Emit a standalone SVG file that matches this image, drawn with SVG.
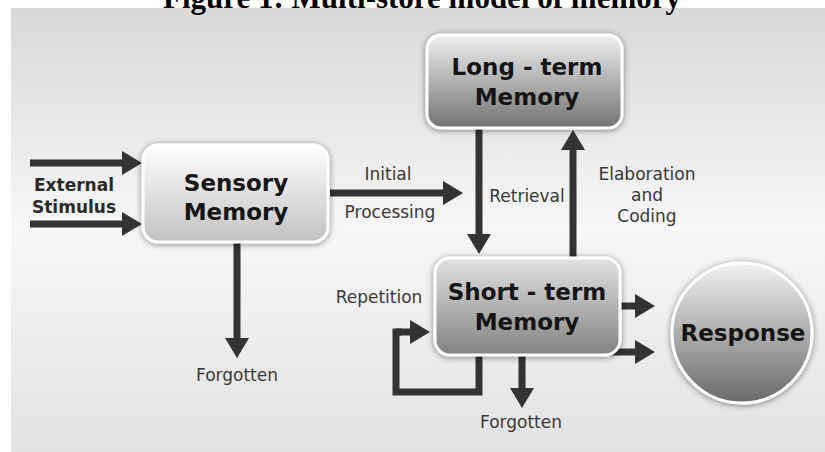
<svg xmlns="http://www.w3.org/2000/svg" width="825" height="452" viewBox="0 0 825 452">
<defs>
<linearGradient id="bg" x1="0" y1="0" x2="0" y2="1">
<stop offset="0" stop-color="#d8d8d8"/>
<stop offset="0.5" stop-color="#f7f7f7"/>
<stop offset="1" stop-color="#e2e2e2"/>
</linearGradient>
<linearGradient id="gSens" x1="0" y1="0" x2="0" y2="1">
<stop offset="0" stop-color="#ffffff"/>
<stop offset="1" stop-color="#c2c2c2"/>
</linearGradient>
<linearGradient id="gLong" x1="0" y1="0" x2="0" y2="1">
<stop offset="0" stop-color="#f0f0f0"/>
<stop offset="1" stop-color="#727272"/>
</linearGradient>
<linearGradient id="gShort" x1="0" y1="0" x2="0" y2="1">
<stop offset="0" stop-color="#e2e2e2"/>
<stop offset="1" stop-color="#828282"/>
</linearGradient>
<linearGradient id="gResp" x1="0" y1="0" x2="0" y2="1">
<stop offset="0" stop-color="#f2f2f2"/>
<stop offset="1" stop-color="#6a6a6a"/>
</linearGradient>
<filter id="sh" x="-20%" y="-20%" width="140%" height="140%">
<feGaussianBlur in="SourceAlpha" stdDeviation="3"/>
<feOffset dx="0" dy="1" result="b"/>
<feFlood flood-color="#000" flood-opacity="0.45"/>
<feComposite in2="b" operator="in"/>
<feMerge><feMergeNode/><feMergeNode in="SourceGraphic"/></feMerge>
</filter>
<marker id="ah" viewBox="0 0 20 24" refX="6" refY="12" markerWidth="20" markerHeight="24" markerUnits="userSpaceOnUse" orient="auto">
<path d="M0,0 L20,12 L0,24 Z" fill="#333"/>
</marker>
</defs>
<style>
.box{stroke:#fff;stroke-width:3;filter:url(#sh)}
.bt{font-family:"DejaVu Sans",Verdana,sans-serif;font-weight:bold;font-size:23px;fill:#151515;text-anchor:middle}
.lb{font-family:"DejaVu Sans",Verdana,sans-serif;font-size:17px;fill:#383838;text-anchor:middle}
.lbb{font-family:"DejaVu Sans",Verdana,sans-serif;font-weight:bold;font-size:17px;fill:#2a2a2a;text-anchor:middle}
.ar{fill:none;stroke:#333;stroke-width:7;marker-end:url(#ah)}
.ln{fill:none;stroke:#333;stroke-width:7}
</style>
<rect x="0" y="0" width="825" height="452" fill="#ffffff"/>
<rect x="11" y="8" width="814" height="444" fill="url(#bg)"/>
<text x="422" y="8" font-family="'Liberation Serif','Times New Roman',serif" font-weight="bold" font-size="31" text-anchor="middle" fill="#000">Figure 1: Multi-store model of memory</text>

<g id="connectors">
<path class="ar" d="M30,163 L128,163"/>
<path class="ar" d="M30,224 L128,224"/>
<path class="ar" d="M237,243 L237,344"/>
<path class="ar" d="M330,193 L449,193"/>
<path class="ar" d="M479,129 L479,240"/>
<path class="ar" d="M573,257 L573,144"/>
<path class="ar" d="M620,306 L641,306"/>
<path class="ar" d="M610,352 L641,352"/>
<path class="ln" d="M479,356 L479,392 L396,392 L396,332 L402,332"/>
<path class="ar" d="M396,332 L416,332"/>
<path class="ar" d="M522,356 L522,394"/>
</g>

<g id="external">
<text class="lbb" x="74" y="191">External</text>
<text class="lbb" x="74" y="213">Stimulus</text>
</g>

<g id="sensory">
<rect class="box" x="143" y="145" width="185" height="97" rx="15" fill="url(#gSens)"/>
<text class="bt" x="236" y="191">Sensory</text>
<text class="bt" x="236" y="220">Memory</text>
</g>

<g id="longterm">
<rect class="box" x="427" y="35" width="195" height="93" rx="14" fill="url(#gLong)"/>
<text class="bt" x="527" y="75">Long - term</text>
<text class="bt" x="527" y="105">Memory</text>
</g>

<g id="shortterm">
<rect class="box" x="435" y="258" width="185" height="97" rx="15" fill="url(#gShort)"/>
<text class="bt" x="527" y="300">Short - term</text>
<text class="bt" x="527" y="330">Memory</text>
</g>

<g id="response">
<circle class="box" cx="742" cy="333" r="70" fill="url(#gResp)"/>
<text class="bt" x="743" y="341">Response</text>
</g>

<g id="labels">
<text class="lb" x="388" y="180">Initial</text>
<text class="lb" x="390" y="218">Processing</text>
<text class="lb" x="527" y="202">Retrieval</text>
<text class="lb" x="647" y="180">Elaboration</text>
<text class="lb" x="647" y="201">and</text>
<text class="lb" x="647" y="222">Coding</text>
<text class="lb" x="379" y="303">Repetition</text>
<text class="lb" x="237" y="381">Forgotten</text>
<text class="lb" x="521" y="428">Forgotten</text>
</g>
</svg>
